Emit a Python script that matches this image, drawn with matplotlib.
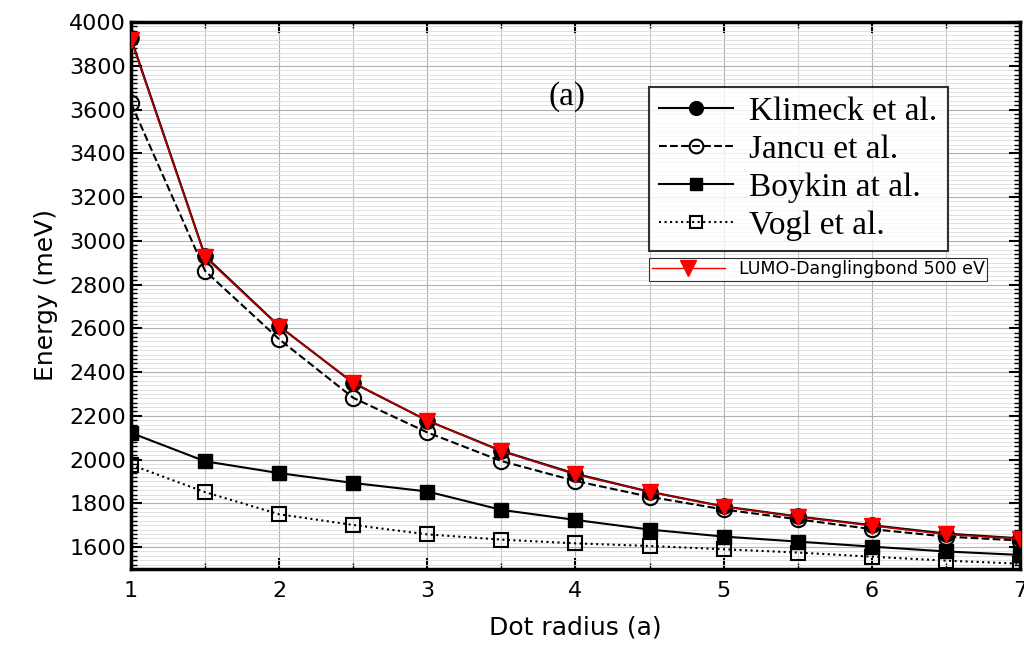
import matplotlib
matplotlib.use('Agg')
import matplotlib.pyplot as plt
from matplotlib.ticker import MultipleLocator
from matplotlib.lines import Line2D

radius = [1, 1.5, 2, 2.5, 3, 3.5, 4, 4.5, 5, 5.5, 6, 6.5, 7]
klimeck = [3925, 2930, 2610, 2350, 2178, 2040, 1935, 1853, 1786, 1740, 1700, 1662, 1640]
jancu = [3628, 2862, 2550, 2282, 2124, 1993, 1902, 1830, 1772, 1727, 1682, 1648, 1630]
boykin = [2122, 1992, 1938, 1893, 1854, 1770, 1724, 1680, 1648, 1625, 1602, 1580, 1564]
vogl = [1976, 1851, 1750, 1701, 1658, 1634, 1617, 1605, 1590, 1575, 1556, 1538, 1524]
lumo = [3918, 2925, 2608, 2352, 2178, 2038, 1932, 1852, 1785, 1738, 1698, 1658, 1638]

fig = plt.figure(figsize=(10.24, 6.48), dpi=100)
ax = fig.add_axes([0.128, 0.122, 0.868, 0.844])

l1, = ax.plot(radius, klimeck, '-', color='black', lw=1.5, marker='o', ms=11,
              mfc='black', mec='black', zorder=3)
l2, = ax.plot(radius, jancu, '--', color='black', lw=1.5, marker='o', ms=11,
              mfc='none', mec='black', mew=1.5, zorder=3)
l3, = ax.plot(radius, boykin, '-', color='black', lw=1.5, marker='s', ms=10,
              mfc='black', mec='black', zorder=3)
l4, = ax.plot(radius, vogl, ':', color='black', lw=1.5, marker='s', ms=10,
              mfc='none', mec='black', mew=1.5, zorder=3)
l5, = ax.plot(radius, lumo, '-', color='#b00000', lw=1.2, marker='v', ms=12,
              mfc='red', mec='red', zorder=4)

ax.set_xlim(1, 7)
ax.set_ylim(1500, 4000)
ax.xaxis.set_major_locator(MultipleLocator(1))
ax.xaxis.set_minor_locator(MultipleLocator(0.5))
ax.yaxis.set_major_locator(MultipleLocator(200))
ax.yaxis.set_minor_locator(MultipleLocator(20))

ax.grid(True, which='major', color='#b0b0b0', lw=0.8)
ax.grid(True, which='minor', axis='x', color='#c8c8c8', lw=0.8)
ax.grid(True, which='minor', axis='y', color='#dcdcdc', lw=0.6)
ax.set_axisbelow(True)

ax.tick_params(which='both', direction='in', top=True, right=True, labelsize=16)
ax.tick_params(axis='x', pad=9)
ax.tick_params(which='major', length=8, width=1.5)
ax.tick_params(which='minor', length=4, width=1)
for s in ax.spines.values():
    s.set_linewidth(2.5)

ax.set_xlabel('Dot radius (a)', fontsize=18, labelpad=10)
ax.set_ylabel('Energy (meV)', fontsize=18, labelpad=8)

ax.text(0.47, 0.863, '(a)', transform=ax.transAxes, fontsize=24,
        family='Liberation Serif', va='center')

leg1 = ax.legend([l1, l2, l3, l4],
                 ['Klimeck et al.', 'Jancu et al.', 'Boykin at al.', 'Vogl et al.'],
                 loc='upper left', bbox_to_anchor=(0.583, 0.882),
                 prop={'family': 'Liberation Serif', 'size': 24},
                 frameon=True, fancybox=False, edgecolor='black',
                 handlelength=2.2, borderpad=0.3, labelspacing=0.22,
                 handletextpad=0.5, markerscale=0.9, borderaxespad=0)
leg1.get_frame().set_linewidth(1.5)
ax.add_artist(leg1)
lumo_h = Line2D([0], [0], color='red', lw=1, marker='v', ms=11, mfc='red', mec='red')
leg2 = ax.legend([lumo_h], ['LUMO-Danglingbond 500 eV'],
                 loc='upper left', bbox_to_anchor=(0.583, 0.569),
                 prop={'size': 12.5}, frameon=True, fancybox=False,
                 edgecolor='black', borderpad=0.15, handlelength=4.2,
                 borderaxespad=0)
leg2.get_frame().set_linewidth(0.8)

plt.savefig('out.png', dpi=100)
